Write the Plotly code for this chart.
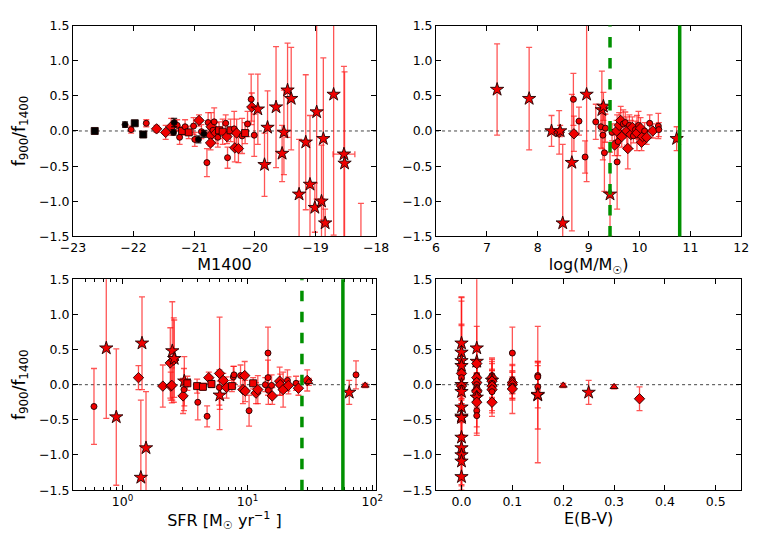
import plotly.graph_objects as go

# ---------------- data ----------------
# Panel 1: M1400
p1_black_x = [-22.64, -22.14, -21.98, -21.84, -21.33, -21.34, -20.93, -20.84]
p1_black_y = [0.0, 0.09, 0.11, -0.05, 0.12, -0.02, -0.12, -0.04]
p1_black_err = [0.02, 0.04, 0.03, 0.04, 0.06, 0.04, 0.05, 0.05]
p1_black_sym = ["square", "circle", "square", "square", "circle", "circle", "circle", "circle"]

p1_x = [-22.04, -21.79, -21.62, -21.47, -21.38, -21.28, -21.24, -21.20, -21.15, -21.09,
        -21.01, -20.99, -20.92, -20.88, -20.79, -20.77, -20.73, -20.73, -20.72, -20.69,
        -20.67, -20.64, -20.61, -20.59, -20.53, -20.48, -20.46, -20.45, -20.40, -20.34,
        -20.33, -20.30, -20.27, -20.21, -20.16, -20.12, -20.06, -20.05, -20.01,
        -19.95, -19.84, -19.79, -19.65, -19.55, -19.52, -19.46, -19.40, -19.27, -19.16,
        -19.09, -19.01, -18.98, -18.90, -18.87, -18.84, -18.70, -18.53, -18.52, -18.25]
p1_y = [0.02, 0.11, 0.03, -0.02, 0.06, 0.08, -0.09, 0.0, 0.06, -0.02,
        0.07, -0.12, 0.15, -0.01, -0.45, 0.12, -0.06, -0.17, 0.06, 0.01,
        0.13, -0.03, -0.09, 0.01, -0.01, 0.11, -0.08, -0.38, 0.01, 0.03,
        -0.24, -0.03, -0.25, -0.07, -0.03, 0.10, 0.45, 0.34, -0.06,
        0.31, -0.48, 0.05, 0.34, -0.32, -0.02, 0.58, 0.46, -0.90, -0.16,
        -0.76, -1.09, 0.27, -1.00, -0.11, -1.31, 0.52, -0.33, -0.46, -1.65]
p1_err = [0.05, 0.05, 0.05, 0.10, 0.12, 0.08, 0.10, 0.06, 0.10, 0.09,
          0.12, 0.10, 0.08, 0.10, 0.20, 0.14, 0.15, 0.10, 0.20, 0.12,
          0.20, 0.15, 0.14, 0.12, 0.18, 0.12, 0.10, 0.15, 0.16, 0.25,
          0.20, 0.20, 0.20, 0.25, 0.15, 0.18, 0.36, 0.20, 0.30,
          0.50, 0.45, 0.52, 0.86, 0.40, 0.60, 0.67, 0.73, 0.78, 0.96,
          0.98, 0.35, 1.24, 0.80, 1.15, 0.20, 2.00, 1.25, 1.30, 0.62]
p1_xerr = [0]*55 + [0, 0.18, 0, 0.21, 0]
p1_xerr[52] = 0.05
p1_xerr[54] = 0.05
p1_sym = ["circle", "circle", "diamond", "diamond", "diamond", "circle", "circle", "square", "circle", "square",
          "circle", "circle", "diamond", "circle", "circle", "circle", "diamond", "diamond", "diamond", "circle",
          "circle", "diamond", "circle", "square", "square", "circle", "diamond", "circle", "square", "circle",
          "diamond", "diamond", "diamond", "circle", "square", "circle", "circle", "diamond", "circle",
          "star", "star", "star", "star", "star", "star", "star", "star", "star", "star",
          "star", "star", "star", "star", "star", "star", "star", "star", "star", "star"]

# Panel 2: log(M/Msun)
p2_x = [7.20, 7.83, 8.27, 8.42, 8.44, 8.49, 8.67, 8.70, 8.71, 8.81, 8.93, 8.96, 9.14,
        9.24, 9.26, 9.29, 9.28, 9.31, 9.33, 9.42, 9.46, 9.51, 9.55, 9.56, 9.58, 9.60,
        9.63, 9.65, 9.68, 9.72, 9.75, 9.77, 9.80, 9.83, 9.86, 9.88, 9.92, 9.95, 9.98,
        10.02, 10.04, 10.06, 10.10, 10.14, 10.20, 10.26, 10.37, 10.38, 10.73]
p2_y = [0.59, 0.46, 0.0, -0.02, 0.0, -1.31, -0.45, 0.45, -0.04, 0.14, -0.37, 0.52, 0.13,
        0.06, 0.30, 0.35, -0.06, -0.31, 0.04, -0.90, -0.02, -0.20, 0.0, -0.44, -0.15, 0.08,
        0.15, -0.08, 0.10, 0.12, 0.0, -0.25, 0.08, -0.05, 0.05, -0.07, 0.02, -0.03, 0.08,
        0.04, -0.16, -0.08, 0.0, -0.09, 0.11, 0.0, 0.07, 0.02, -0.11]
p2_err = [0.65, 0.73, 0.22, 0.31, 0.08, 1.12, 0.97, 0.37, 0.25, 0.20, 0.23, 1.24, 0.25,
          0.30, 0.55, 0.20, 0.35, 0.55, 0.20, 0.60, 0.12, 0.15, 0.15, 0.67, 0.20, 0.18,
          0.20, 0.15, 0.20, 0.15, 0.20, 0.29, 0.15, 0.20, 0.15, 0.10, 0.12, 0.25, 0.20,
          0.15, 0.12, 0.10, 0.12, 0.10, 0.12, 0.10, 0.18, 0.10, 0.17]
p2_sym = ["star", "star", "star", "diamond", "star", "star", "star", "circle", "diamond", "circle", "circle", "star", "circle",
          "circle", "star", "star", "circle", "circle", "circle", "star", "circle", "diamond", "diamond", "circle", "circle", "diamond",
          "diamond", "diamond", "circle", "circle", "diamond", "diamond", "circle", "diamond", "diamond", "circle", "circle", "diamond", "circle",
          "diamond", "diamond", "diamond", "circle", "diamond", "circle", "diamond", "circle", "circle", "star"]
p2_vlines = [9.42, 10.79]

# Panel 3: SFR
p3_x = [0.59, 0.74, 0.89, 1.34, 1.40, 1.43, 1.54, 2.10, 2.41, 2.43, 2.50, 2.57, 2.59, 2.48,
        3.05, 3.10, 3.12, 3.30, 4.00, 3.95, 4.40, 4.75, 4.90, 5.15, 5.98, 6.00, 5.95, 6.40,
        6.80, 7.50, 7.70, 7.80, 8.80, 9.20, 9.50, 9.60, 10.3, 11.1, 11.7, 12.1, 13.9, 14.6,
        14.6, 14.7, 15.6, 15.8, 18.1, 18.3, 19.3, 20.9, 21.3, 24.5, 25.6, 30.1, 31.0,
        65.3, 74.0, 87.6]
p3_y = [-0.31, 0.52, -0.46, 0.10, -1.32, 0.59, -0.90, -0.02, 0.31, -0.02, 0.48, 0.35, 0.37, -0.01,
        -0.16, -0.07, 0.05, 0.02, -0.25, -0.02, -0.03, -0.45, 0.10, 0.01, 0.16, -0.15, -0.04, 0.06,
        -0.04, -0.02, 0.11, 0.14, 0.13, -0.07, 0.13, -0.09, -0.37, 0.02, -0.12, -0.07, 0.0, 0.45,
        0.10, -0.08, -0.01, -0.16, 0.05, 0.0, -0.07, 0.06, -0.01, 0.02, -0.05, 0.06, 0.04,
        -0.11, 0.14, -0.01]
p3_err = [0.54, 1.00, 0.97, 0.17, 1.10, 0.66, 0.80, 0.30, 0.50, 0.20, 0.70, 0.60, 0.55, 0.25,
          0.25, 0.30, 0.35, 0.10, 0.25, 0.10, 0.05, 0.15, 0.08, 0.05, 0.80, 0.20, 0.25, 0.10,
          0.15, 0.08, 0.15, 0.12, 0.15, 0.20, 0.20, 0.15, 0.22, 0.08, 0.15, 0.20, 0.10, 0.37,
          0.25, 0.20, 0.15, 0.12, 0.20, 0.15, 0.25, 0.15, 0.12, 0.10, 0.10, 0.15, 0.05,
          0.17, 0.20, 0.03]
p3_sym = ["circle", "star", "star", "diamond", "star", "star", "star", "diamond", "diamond", "diamond", "star", "diamond", "star", "diamond",
          "diamond", "circle", "star", "square", "circle", "square", "square", "circle", "diamond", "square", "diamond", "star", "circle", "diamond",
          "diamond", "square", "circle", "circle", "circle", "diamond", "diamond", "diamond", "circle", "square", "diamond", "diamond", "circle", "circle",
          "circle", "circle", "circle", "diamond", "diamond", "diamond", "diamond", "circle", "diamond", "circle", "diamond", "diamond", "triangle-up",
          "star", "circle", "triangle-up"]
p3_vlines = [27.3, 58.1]

# Panel 4: E(B-V)
p4_x = [0.0]*18 + [0.03]*16 + [0.06]*10 + [0.10]*7 + [0.15]*5 + [0.20, 0.25, 0.30, 0.35]
p4_y = [0.59, 0.46, 0.34, 0.27, 0.16, 0.10, 0.0, -0.02, -0.05, -0.10, -0.32, -0.45, -0.47, -0.75, -0.90, -1.00, -1.09, -1.31,
        0.52, 0.33, 0.30, 0.13, 0.10, 0.05, 0.03, 0.0, -0.04, -0.08, -0.10, -0.16, -0.18, -0.25, -0.37, -0.44,
        0.13, 0.10, 0.06, 0.05, 0.02, -0.02, -0.05, -0.07, -0.10, -0.25,
        0.45, 0.07, 0.03, 0.0, -0.02, -0.04, -0.06,
        0.13, 0.11, -0.03, -0.15, -0.14,
        -0.01, -0.11, -0.03, -0.20]
p4_err = [0.65, 0.73, 0.50, 0.98, 0.70, 0.20, 0.22, 0.31, 0.25, 0.17, 0.40, 0.97, 0.45, 0.98, 0.60, 0.80, 0.35, 1.12,
          1.24, 0.50, 0.25, 0.20, 0.15, 0.12, 0.30, 0.15, 0.20, 0.15, 0.20, 0.10, 0.15, 0.20, 0.23, 0.25,
          0.25, 0.20, 0.30, 0.15, 0.20, 0.35, 0.15, 0.20, 0.30, 0.20,
          0.37, 0.20, 0.15, 0.20, 0.20, 0.15, 0.35,
          0.20, 0.20, 0.30, 0.48, 0.97,
          0.03, 0.17, 0.03, 0.17]
p4_sym = ["star", "star", "star", "star", "diamond", "circle", "star", "diamond", "circle", "star", "star", "star", "star", "star", "star", "star", "star", "star",
          "star", "star", "diamond", "circle", "diamond", "circle", "diamond", "circle", "circle", "diamond", "diamond", "diamond", "star", "diamond", "circle", "circle",
          "circle", "diamond", "star", "diamond", "circle", "diamond", "circle", "diamond", "circle", "diamond",
          "circle", "circle", "diamond", "diamond", "circle", "circle", "diamond",
          "circle", "circle", "circle", "star", "star",
          "triangle-up", "star", "triangle-up", "diamond"]

# ---------------- styling ----------------
SIZE = {"star": 10, "circle": 6, "diamond": 8, "square": 7, "triangle-up": 7}
RED = "#f00000"
ERRC = "rgba(255,20,20,0.72)"
FONT = "DejaVu Sans"

fig = go.Figure()


def add_points(x, y, err, sym, xa, ya, color=RED, errc=ERRC, xerr=None):
    kw = {}
    if xerr is not None:
        kw["error_x"] = dict(type="data", array=xerr, visible=True, color=errc, thickness=1.3, width=3)
    fig.add_trace(go.Scatter(
        x=x, y=y, mode="markers", xaxis=xa, yaxis=ya,
        error_y=dict(type="data", array=err, visible=True, color=errc, thickness=1.3, width=3),
        marker=dict(symbol=sym, size=[SIZE[s] for s in sym], color=color, opacity=1,
                    line=dict(color="#200000", width=0.9)),
        showlegend=False, **kw))


add_points(p1_x, p1_y, p1_err, p1_sym, "x", "y", xerr=p1_xerr)
add_points(p1_black_x, p1_black_y, p1_black_err, p1_black_sym, "x", "y", color="black", errc="rgba(0,0,0,0.8)")
add_points(p2_x, p2_y, p2_err, p2_sym, "x2", "y2")
add_points(p3_x, p3_y, p3_err, p3_sym, "x3", "y3")
add_points(p4_x, p4_y, p4_err, p4_sym, "x4", "y4")

shapes = []
for xr, yr in [("x", "y"), ("x2", "y2"), ("x3", "y3"), ("x4", "y4")]:
    shapes.append(dict(type="line", xref=f"{xr} domain", yref=yr, x0=0, x1=1, y0=0, y1=0,
                       line=dict(color="#444", width=1, dash="dot"), layer="below"))
for xr, yr, vals in [("x2", "y2", p2_vlines), ("x3", "y3", p3_vlines)]:
    for i, v in enumerate(vals):
        shapes.append(dict(type="line", xref=xr, yref=f"{yr} domain", x0=v, x1=v, y0=0, y1=1,
                           line=dict(color="#009000", width=3.5, dash="dash" if i == 0 else "solid")))

axis_common = dict(showline=True, mirror="ticks", linecolor="black", linewidth=1,
                   ticks="inside", ticklen=5, tickcolor="black", showgrid=False, zeroline=False,
                   tickfont=dict(family=FONT, size=12.5, color="black"))
yt = dict(range=[-1.5, 1.5], tickvals=[-1.5, -1.0, -0.5, 0.0, 0.5, 1.0, 1.5], tickformat=".1f", **axis_common)
title_font = dict(family=FONT, size=16, color="black")

D1 = [0.0815, 0.494]
D2 = [0.5756, 0.9908]
DT = [0.5632, 0.9665]
DB = [0.0781, 0.4814]

ylab = "f<sub>900</sub>/f<sub>1400</sub>"

fig.update_layout(
    width=761, height=538, margin=dict(l=0, r=0, t=0, b=0),
    paper_bgcolor="white", plot_bgcolor="white", showlegend=False,
    shapes=shapes,
    xaxis=dict(domain=D1, anchor="y", range=[-23, -18], dtick=1,
               title=dict(text="M1400", font=title_font, standoff=3), **axis_common),
    yaxis=dict(domain=DT, anchor="x", title=dict(text=ylab, font=dict(family=FONT, size=17, color="black"), standoff=9), **yt),
    xaxis2=dict(domain=D2, anchor="y2", range=[6, 12], dtick=1,
                title=dict(text="log(M/M<sub>☉</sub>)", font=title_font, standoff=3), **axis_common),
    yaxis2=dict(domain=DT, anchor="x2", **yt),
    xaxis3=dict(domain=D1, anchor="y3", type="log", range=[-0.398, 2.03],
                tickvals=[1, 10, 100], ticktext=["10<sup>0</sup>", "10<sup>1</sup>", "10<sup>2</sup>"],
                minor=dict(ticks="inside", ticklen=3, tickcolor="black", showgrid=False,
                           tickvals=[0.4, 0.5, 0.6, 0.7, 0.8, 0.9, 2, 3, 4, 5, 6, 7, 8, 9, 20, 30, 40, 50, 60, 70, 80, 90]),
                title=dict(text="SFR [M<sub>☉</sub> yr<sup>−1</sup> ]", font=title_font, standoff=3), **axis_common),
    yaxis3=dict(domain=DB, anchor="x3", title=dict(text=ylab, font=dict(family=FONT, size=17, color="black"), standoff=9), **yt),
    xaxis4=dict(domain=D2, anchor="y4", range=[-0.05, 0.55], tickvals=[0.0, 0.1, 0.2, 0.3, 0.4, 0.5], tickformat=".1f",
                title=dict(text="E(B-V)", font=title_font, standoff=3), **axis_common),
    yaxis4=dict(domain=DB, anchor="x4", **yt),
)

fig.write_html("out.html")
